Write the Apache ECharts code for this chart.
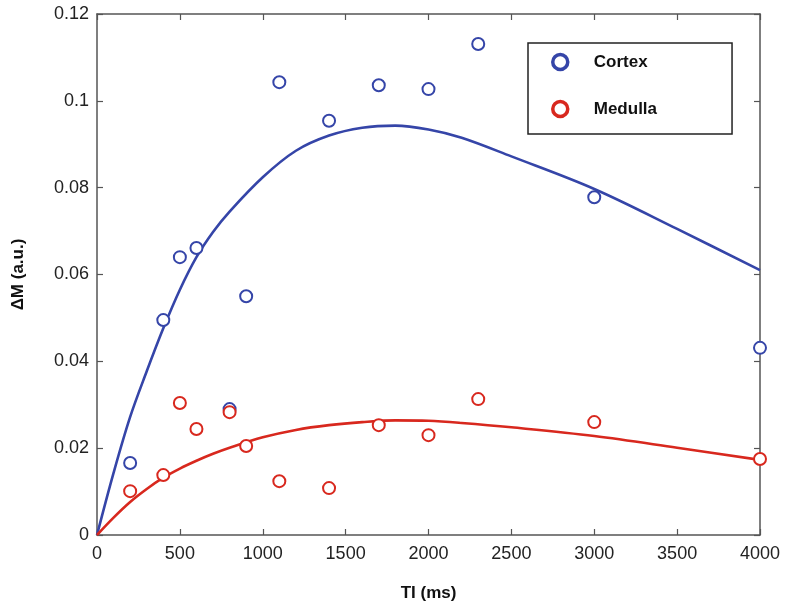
<!DOCTYPE html>
<html>
<head>
<meta charset="utf-8">
<script src="https://cdn.jsdelivr.net/npm/echarts@6/dist/echarts.min.js"></script>
<style>html,body{margin:0;padding:0;background:#fff;}#c{width:798px;height:608px;}</style>
</head>
<body>
<div id="c"></div>
<script>
// Measured data
var tiCortex = [200, 400, 500, 600, 800, 900, 1100, 1400, 1700, 2000, 2300, 3000, 4000];
var cortexValues = [0.0166, 0.0495, 0.0640, 0.0661, 0.0290, 0.0550, 0.1043, 0.0954, 0.1036, 0.1027, 0.1131, 0.0778, 0.0431];
var tiMedulla = [200, 400, 500, 600, 800, 900, 1100, 1400, 1700, 2000, 2300, 3000, 4000];
var medullaValues = [0.0101, 0.0138, 0.0304, 0.0244, 0.0283, 0.0205, 0.0124, 0.0108, 0.0253, 0.0230, 0.0313, 0.0260, 0.0175];
// Fitted curves
var fitTI = [0, 100, 200, 300, 400, 500, 600, 700, 800, 1000, 1200, 1400, 1600, 1800, 2000, 2200, 2500, 3000, 3500, 4000];
var cortexFit = [0, 0.0143, 0.0272, 0.0377, 0.0476, 0.0565, 0.0640, 0.0698, 0.0745, 0.0824, 0.0885, 0.0920, 0.0938, 0.0943, 0.0934, 0.0915, 0.0872, 0.0797, 0.0705, 0.0610];
var medullaFit = [0, 0.0040, 0.0076, 0.0106, 0.0132, 0.0153, 0.0171, 0.0187, 0.0201, 0.0225, 0.0242, 0.0253, 0.0260, 0.0264, 0.0263, 0.0258, 0.0248, 0.0228, 0.0201, 0.0173];
var xTicks = [0, 500, 1000, 1500, 2000, 2500, 3000, 3500, 4000];
var yTicks = [0, 0.02, 0.04, 0.06, 0.08, 0.1, 0.12];

var BLUE = '#3545a8', RED = '#d8281e';
var FONT = '"Liberation Sans", Arial, sans-serif';
function pairs(xs, ys) { return xs.map(function (x, i) { return [x, ys[i]]; }); }

var axisLine = { show: true, onZero: false, lineStyle: { color: '#555', width: 1.5 } };
var tick = { show: true, inside: true, length: 6, lineStyle: { color: '#555', width: 1.2 } };

var chart = echarts.init(document.getElementById('c'), null, { renderer: 'canvas' });
chart.setOption({
  backgroundColor: '#fff',
  animation: false,
  grid: { left: 97, right: 38, top: 14, bottom: 73 },
  xAxis: [{
    type: 'value', min: 0, max: 4000, interval: 500,
    name: 'TI (ms)', nameLocation: 'middle', nameGap: 50,
    nameTextStyle: { fontFamily: FONT, fontSize: 17, fontWeight: 'bold', color: '#111' },
    axisLine: axisLine, axisTick: tick, splitLine: { show: false },
    axisLabel: { fontFamily: FONT, fontSize: 18, color: '#222', margin: 10,
      formatter: function (v) { return xTicks.indexOf(v) >= 0 ? String(v) : ''; } }
  }, {
    type: 'value', min: 0, max: 4000, interval: 500, position: 'top',
    axisLine: axisLine, axisTick: tick, axisLabel: { show: false }, splitLine: { show: false }
  }],
  yAxis: [{
    type: 'value', min: 0, max: 0.12, interval: 0.02,
    name: '\u0394M (a.u.)', nameLocation: 'middle', nameGap: 70,
    nameTextStyle: { fontFamily: FONT, fontSize: 17, fontWeight: 'bold', color: '#111' },
    axisLine: axisLine, axisTick: tick, splitLine: { show: false },
    axisLabel: { fontFamily: FONT, fontSize: 18, color: '#222', margin: 8,
      formatter: function (v) { var r = Math.round(v * 100) / 100; return yTicks.indexOf(r) >= 0 ? String(r) : ''; } }
  }, {
    type: 'value', min: 0, max: 0.12, interval: 0.02, position: 'right',
    axisLine: axisLine, axisTick: tick, axisLabel: { show: false }, splitLine: { show: false }
  }],
  legend: {
    left: 528, top: 43, orient: 'vertical',
    data: [
      { name: 'Cortex', icon: 'circle', itemStyle: { color: '#fff', borderColor: BLUE, borderWidth: 3.5, opacity: 1 } },
      { name: 'Medulla', icon: 'circle', itemStyle: { color: '#fff', borderColor: RED, borderWidth: 3.5, opacity: 1 } }
    ],
    itemWidth: 15, itemHeight: 15, itemGap: 27,
    padding: [9, 75, 15, 23],
    borderColor: '#222', borderWidth: 1.5, backgroundColor: '#fff',
    textStyle: { fontFamily: FONT, fontSize: 17, fontWeight: 'bold', color: '#111', padding: [0, 0, 0, 21], lineHeight: 20 }
  },
  series: [
    { name: 'Cortex fit', type: 'line', data: pairs(fitTI, cortexFit), smooth: 0.35, showSymbol: false,
      lineStyle: { color: BLUE, width: 2.6 }, z: 2 },
    { name: 'Medulla fit', type: 'line', data: pairs(fitTI, medullaFit), smooth: 0.35, showSymbol: false,
      lineStyle: { color: RED, width: 2.6 }, z: 2 },
    { name: 'Cortex', type: 'scatter', data: pairs(tiCortex, cortexValues), symbol: 'emptyCircle', symbolSize: 12,
      itemStyle: { color: BLUE, borderColor: BLUE, borderWidth: 3, opacity: 1 }, z: 3 },
    { name: 'Medulla', type: 'scatter', data: pairs(tiMedulla, medullaValues), symbol: 'emptyCircle', symbolSize: 12,
      itemStyle: { color: RED, borderColor: RED, borderWidth: 3, opacity: 1 }, z: 4 }
  ]
});
</script>
</body>
</html>
